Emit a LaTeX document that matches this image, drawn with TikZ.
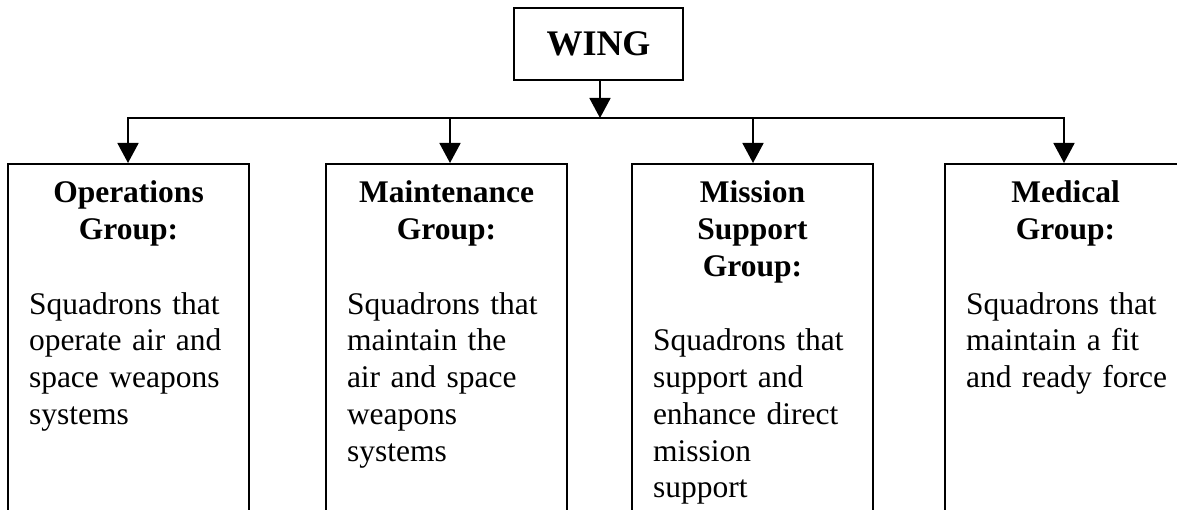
\documentclass[tikz,border=0pt]{standalone}
\usepackage{fontspec}
\setmainfont{Liberation Serif}
\usetikzlibrary{arrows.meta}
\newcommand\grphead[1]{{\centering\bfseries #1\par}\vspace{38pt}\raggedright}

\begin{document}
\begin{tikzpicture}[x=1pt, y=-1pt, line width=1.8pt,
	top/.style={draw, minimum width=169pt, minimum height=72pt, inner sep=0pt, font=\fontsize{36}{40}\selectfont\bfseries},
	grp/.style={draw, anchor=north, text width=199pt, inner xsep=21pt, inner ysep=0pt, text height=39pt, text depth=420pt, font=\fontsize{31.5}{36.7}\selectfont},
	tip/.style={-{Triangle[width=21pt, length=20pt]}}]
		\useasboundingbox (0,0) rectangle (1177,510);

		\node [top] (wing) at (598.5,44) {WING};
		\node [grp] (ops) at (128.5,163) {\grphead{Operations\\Group:}Squadrons that\\operate air and\\space weapons\\systems};
		\node [grp] (mnt) at (446.5,163) {\grphead{Maintenance\\Group:}Squadrons that\\maintain the\\air and space\\weapons\\systems};
		\node [grp] (msg) at (752.5,163) {\grphead{Mission\\Support\\Group:}Squadrons that\\support and\\enhance direct\\mission\\support};
		\node [grp] (med) at (1065.5,163) {\grphead{Medical\\Group:}Squadrons that\\maintain a fit\\\mbox{and ready force}};

		\coordinate (hub) at (600,118);
		\coordinate (b1) at (128,118);
		\coordinate (b2) at (450,118);
		\coordinate (b3) at (753,118);
		\coordinate (b4) at (1064,118);

		\draw[tip] (hub |- wing.south) -- (hub);
		\draw[tip] (hub) -- (b1) -- (b1 |- ops.north);
		\draw[tip] (hub) -- (b4) -- (b4 |- med.north);
		\draw[tip] (b2) -- (b2 |- mnt.north);
		\draw[tip] (b3) -- (b3 |- msg.north);
	\end{tikzpicture}
\end{document}
